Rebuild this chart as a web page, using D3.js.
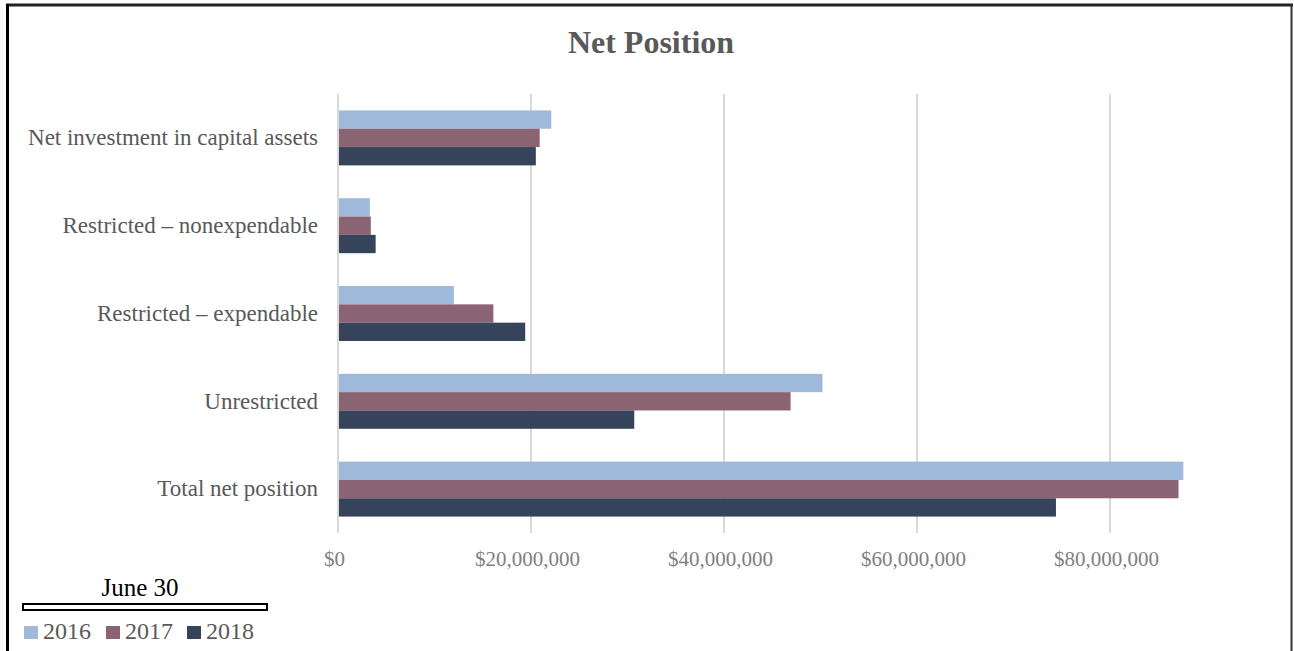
<!DOCTYPE html>
<html>
<head>
<meta charset="utf-8">
<script src="https://cdn.jsdelivr.net/npm/d3@7"></script>
<style>
  body { margin: 0; background: #fff; }
  svg { display: block; font-family: 'Liberation Serif', 'DejaVu Serif', serif; }
</style>
</head>
<body>
<svg id="chart"></svg>
<script>
// data (dollars)
const categories = ['Net investment in capital assets', 'Restricted – nonexpendable', 'Restricted – expendable', 'Unrestricted', 'Total net position']
const years = ['2016', '2017', '2018']
const values2016 = [22100000, 3300000, 12000000, 50200000, 87600000]
const values2017 = [20900000, 3400000, 16100000, 46900000, 87100000]
const values2018 = [20500000, 3900000, 19400000, 30700000, 74400000]
const xTicks = [0, 20000000, 40000000, 60000000, 80000000]

const colors = { '2016': '#9fb9da', '2017': '#8a6473', '2018': '#35435b' }

const w = 1294
const h = 651
const svg = d3.select('#chart').attr('width', w).attr('height', h)

// frame
svg.append('line').attr('x1', 6).attr('x2', 1293).attr('y1', 5).attr('y2', 5)
  .attr('stroke', '#222').attr('stroke-width', 3)
svg.append('line').attr('x1', 7.5).attr('x2', 7.5).attr('y1', 4).attr('y2', h)
  .attr('stroke', '#000').attr('stroke-width', 3)
svg.append('line').attr('x1', 1291.5).attr('x2', 1291.5).attr('y1', 4).attr('y2', h)
  .attr('stroke', '#333').attr('stroke-width', 2)

// title
svg.append('text')
  .attr('x', 651).attr('y', 53)
  .attr('text-anchor', 'middle')
  .attr('font-size', 32).attr('font-weight', 'bold')
  .attr('fill', '#595959')
  .text('Net Position')

// scales
const xScale = d3.scaleLinear().domain([0, 80000000]).range([338, 1110])
const yScale = d3.scaleBand().domain(categories).range([94, 533])
  .paddingInner(0.374).paddingOuter(0.187)
const ySub = d3.scaleBand().domain(years).range([0, yScale.bandwidth()])

// gridlines
svg.append('g')
  .selectAll('line')
  .data(xTicks)
  .enter().append('line')
  .attr('x1', d => xScale(d)).attr('x2', d => xScale(d))
  .attr('y1', 94).attr('y2', 533)
  .attr('stroke', '#d9d9d9').attr('stroke-width', 2)

// x axis labels
const xAxis = d3.axisBottom(xScale)
  .tickValues(xTicks)
  .tickSize(0)
  .tickFormat(d => '$' + d3.format(',')(d))
const gx = svg.append('g')
  .attr('transform', 'translate(-4, 548)')
  .call(xAxis)
gx.select('.domain').remove()
gx.selectAll('text')
  .attr('font-family', 'Liberation Serif, serif')
  .attr('font-size', 21)
  .attr('fill', '#7f7f7f')

// y axis labels
const yAxis = d3.axisLeft(yScale).tickSize(0).tickPadding(0)
const gy = svg.append('g')
  .attr('transform', 'translate(318, 0)')
  .call(yAxis)
gy.select('.domain').remove()
gy.selectAll('text')
  .attr('font-family', 'Liberation Serif, serif')
  .attr('font-size', 23)
  .attr('fill', '#595959')

// bars
const rows = categories.map((c, i) => ({
  category: c,
  values: [
    { year: '2016', value: values2016[i] },
    { year: '2017', value: values2017[i] },
    { year: '2018', value: values2018[i] }
  ]
}))

svg.append('g')
  .selectAll('g')
  .data(rows)
  .enter().append('g')
  .attr('transform', d => `translate(0, ${yScale(d.category)})`)
  .selectAll('rect')
  .data(d => d.values)
  .enter().append('rect')
  .attr('x', xScale(0) + 1)
  .attr('y', d => ySub(d.year))
  .attr('width', d => xScale(d.value) - xScale(0) - 1)
  .attr('height', ySub.bandwidth())
  .attr('fill', d => colors[d.year])

// legend
svg.append('text')
  .attr('x', 140).attr('y', 596)
  .attr('text-anchor', 'middle')
  .attr('font-size', 25)
  .attr('fill', '#000')
  .text('June 30')
svg.append('rect')
  .attr('x', 23).attr('y', 604)
  .attr('width', 244).attr('height', 6)
  .attr('fill', '#fff').attr('stroke', '#000').attr('stroke-width', 2)

const legendX = [24, 106, 187]
const legend = svg.append('g')
  .selectAll('g')
  .data(years)
  .enter().append('g')
  .attr('transform', (d, i) => `translate(${legendX[i]}, 626)`)
legend.append('rect')
  .attr('width', 14).attr('height', 13)
  .attr('fill', d => colors[d])
legend.append('text')
  .attr('x', 19).attr('y', 13)
  .attr('font-size', 24)
  .attr('fill', '#595959')
  .text(d => d)
</script>
</body>
</html>
